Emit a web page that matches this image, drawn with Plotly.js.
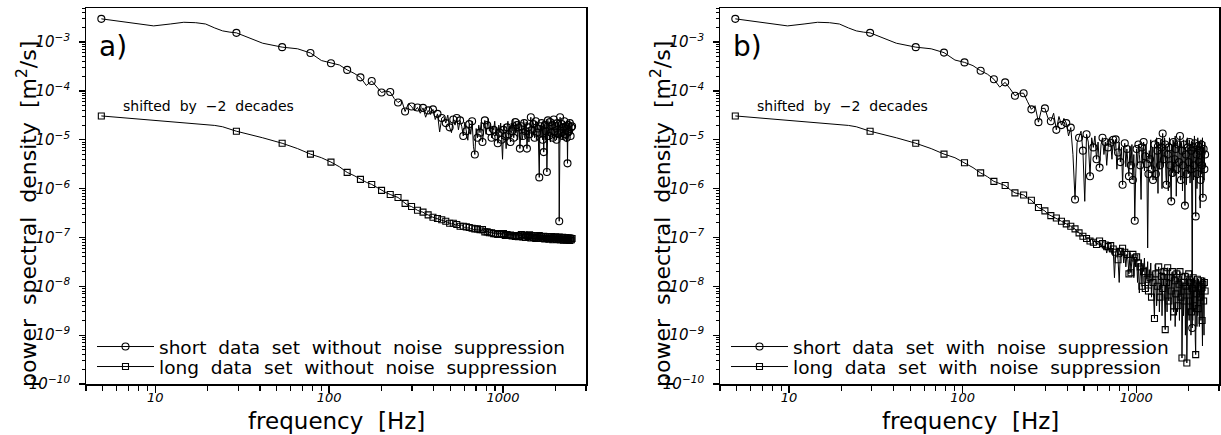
<!DOCTYPE html>
<html>
<head>
<meta charset="utf-8">
<script src="https://cdn.plot.ly/plotly-3.0.1.min.js"></script>
<style>html,body{margin:0;padding:0;background:#fff;}#chart{width:1221px;height:435px;}</style>
</head>
<body>
<div id="chart"></div>
<script>
// frequency bins [Hz]
const freq = [
4.9, 7.3, 9.8, 12.2, 14.6, 17.1, 19.5, 22.0, 24.4, 26.9, 29.3,
41.5, 53.7, 65.9, 78.1, 90.3, 102.5, 114.7, 127.0, 139.2, 151.4,
163.6, 175.8, 188.0, 200.2, 212.4, 224.6, 236.8, 249.0, 261.2, 273.4,
285.6, 297.9, 310.1, 322.3, 334.5, 346.7, 358.9, 371.1, 383.3, 395.5,
407.7, 419.9, 432.1, 444.3, 456.5, 468.7, 481.0, 493.2, 505.4, 517.6,
529.8, 542.0, 554.2, 566.4, 578.6, 590.8, 603.0, 615.2, 627.4, 639.6,
651.9, 664.1, 676.3, 688.5, 700.7, 712.9, 725.1, 737.3, 749.5, 761.7,
773.9, 786.1, 798.3, 810.5, 822.8, 835.0, 847.2, 859.4, 871.6, 883.8,
896.0, 908.2, 920.4, 932.6, 944.8, 957.0, 969.2, 981.4, 993.6, 1005.9,
1018.1, 1030.3, 1042.5, 1054.7, 1066.9, 1079.1, 1091.3, 1103.5, 1115.7, 1127.9,
1140.1, 1152.3, 1164.5, 1176.8, 1189.0, 1201.2, 1213.4, 1225.6, 1237.8, 1250.0,
1274.4, 1286.6, 1298.8, 1311.0, 1323.2, 1335.4, 1347.7, 1359.9, 1372.1, 1384.3,
1396.5, 1408.7, 1420.9, 1433.1, 1445.3, 1457.5, 1469.7, 1481.9, 1494.1, 1506.3,
1518.6, 1530.8, 1543.0, 1555.2, 1567.4, 1579.6, 1591.8, 1604.0, 1616.2, 1628.4,
1640.6, 1652.8, 1665.0, 1677.2, 1689.4, 1701.7, 1713.9, 1726.1, 1738.3, 1750.5,
1762.7, 1774.9, 1787.1, 1799.3, 1811.5, 1823.7, 1835.9, 1848.1, 1860.3, 1872.6,
1884.8, 1897.0, 1909.2, 1921.4, 1933.6, 1945.8, 1958.0, 1970.2, 1982.4, 1994.6,
2006.8, 2019.0, 2031.2, 2043.5, 2055.7, 2067.9, 2080.1, 2092.3, 2104.5, 2116.7,
2128.9, 2141.1, 2153.3, 2165.5, 2177.7, 2190.0, 2202.1, 2214.4, 2226.6, 2238.8,
2251.0, 2263.2, 2275.4, 2287.6, 2299.8, 2312.0, 2324.2, 2336.4, 2348.6, 2360.9,
2373.1, 2385.3, 2397.5, 2409.7, 2421.9, 2434.1, 2446.3, 2458.5, 2470.7, 2482.9,
2495.1
];

// a) short data set without noise suppression
const shortWithout = [
3.0e-3, 2.5e-3, 2.15e-3, 2.35e-3, 2.55e-3, 2.5e-3, 2.35e-3, 1.95e-3, 1.7e-3, 1.6e-3, 1.55e-3,
9.5e-4, 7.9e-4, 7.3e-4, 6.0e-4, 4.2e-4, 3.7e-4, 3.4e-4, 2.7e-4, 2.3e-4, 1.9e-4,
1.3e-4, 1.6e-4, 1.2e-4, 9.3e-5, 1.0e-4, 9.5e-5, 7.0e-5, 5.8e-5, 6.5e-5, 3.8e-5,
5.5e-5, 4.8e-5, 3.9e-5, 4.6e-5, 3.5e-5, 4.5e-5, 2.9e-5, 4.0e-5, 3.3e-5, 4.2e-5,
2.6e-5, 3.4e-5, 1.45e-5, 2.8e-5, 3.0e-5, 2.2e-5, 3.2e-5, 1.8e-5, 1.4e-5, 2.6e-5,
2.0e-5, 2.8e-5, 1.6e-5, 2.5e-5, 1.9e-5, 1.2e-5, 2.3e-5, 1.5e-5, 9.8e-6, 2.1e-5,
1.3e-5, 2.4e-5, 7.2e-6, 5.0e-6, 1.7e-5, 1.1e-5, 2.0e-5, 1.4e-5, 2.3e-5, 9.0e-6,
1.8e-5, 2.5e-5, 1.3e-5, 2.0e-5, 2.7e-5, 1.5e-5, 2.2e-5, 1.1e-5, 1.9e-5, 1.6e-5,
2.4e-5, 1.2e-5, 1.8e-5, 8.5e-6, 2.0e-5, 1.4e-5, 2.2e-5, 1.0e-5, 4.0e-6, 1.6e-5,
2.1e-5, 1.2e-5, 6.6e-6, 1.8e-5, 2.4e-5, 1.3e-5, 1.9e-5, 9.0e-6, 2.2e-5, 1.5e-5,
2.6e-5, 1.1e-5, 1.7e-5, 2.3e-5, 1.4e-5, 2.0e-5, 1.0e-5, 1.8e-5, 2.5e-5, 6.6e-6,
1.9e-5, 1.0e-5, 1.2e-5, 2.5e-5, 2.2e-5, 1.1e-5, 1.5e-5, 2.3e-5, 6.6e-6, 1.6e-5,
1.8e-5, 9.0e-6, 1.3e-5, 2.1e-5, 2.9e-5, 1.2e-5, 1.6e-5, 2.6e-5, 2.1e-5, 1.3e-5,
1.1e-5, 2.0e-5, 2.4e-5, 1.0e-5, 1.4e-5, 2.3e-5, 1.7e-5, 8.0e-6, 1.7e-6, 2.0e-5,
1.9e-5, 1.1e-5, 2.2e-5, 1.4e-5, 1.0e-5, 2.4e-5, 5.6e-6, 1.6e-5, 2.0e-5, 1.0e-5,
1.5e-5, 2.6e-5, 2.2e-6, 1.3e-5, 2.5e-5, 1.5e-5, 1.2e-5, 2.1e-5, 2.3e-5, 9.0e-6,
1.4e-5, 2.4e-5, 2.0e-5, 1.2e-5, 1.1e-5, 2.2e-5, 2.6e-5, 1.0e-5, 1.5e-5, 2.3e-5,
1.9e-5, 1.2e-5, 1.0e-5, 2.5e-5, 2.2e-5, 1.1e-5, 1.3e-5, 2.0e-5, 2.15e-7, 1.5e-5,
2.9e-5, 1.1e-5, 1.4e-5, 2.4e-5, 2.1e-5, 1.0e-5, 1.2e-5, 2.2e-5, 1.8e-5, 1.1e-5,
2.4e-5, 1.3e-5, 1.3e-5, 2.3e-5, 1.9e-5, 9.0e-6, 1.1e-5, 2.1e-5, 3.3e-6, 1.6e-5,
2.0e-5, 1.1e-5, 1.5e-5, 2.5e-5, 2.2e-5, 1.2e-5, 1.2e-5, 2.0e-5, 1.8e-5, 1.3e-5,
1.9e-5
];

// a) long data set without noise suppression (shifted by -2 decades)
const longWithout = [
3.08e-5, 2.74e-5, 2.5e-5, 2.36e-5, 2.24e-5, 2.14e-5, 2.05e-5, 1.97e-5, 1.85e-5, 1.65e-5, 1.5e-5,
1.1e-5, 8.5e-6, 6.6e-6, 5.1e-6, 4.3e-6, 3.5e-6, 2.8e-6, 2.15e-6, 1.85e-6, 1.55e-6,
1.35e-6, 1.22e-6, 1.05e-6, 9.2e-7, 8.3e-7, 7.6e-7, 7.0e-7, 6.6e-7, 5.7e-7, 5.0e-7,
4.5e-7, 4.3e-7, 3.9e-7, 3.6e-7, 3.4e-7, 3.3e-7, 3.0e-7, 2.9e-7, 2.7e-7, 2.6e-7,
2.5e-7, 2.45e-7, 2.35e-7, 2.3e-7, 2.2e-7, 2.15e-7, 2.05e-7, 1.95e-7, 1.9e-7, 1.95e-7,
1.8e-7, 1.85e-7, 1.75e-7, 1.7e-7, 1.8e-7, 1.7e-7, 1.6e-7, 1.65e-7, 1.55e-7, 1.6e-7,
1.5e-7, 1.55e-7, 1.45e-7, 1.5e-7, 1.4e-7, 1.5e-7, 1.4e-7, 1.45e-7, 1.35e-7, 1.45e-7,
1.35e-7, 1.3e-7, 1.4e-7, 1.3e-7, 1.35e-7, 1.25e-7, 1.35e-7, 1.25e-7, 1.3e-7, 1.2e-7,
1.3e-7, 1.2e-7, 1.3e-7, 1.15e-7, 1.25e-7, 1.2e-7, 1.3e-7, 1.15e-7, 1.25e-7, 1.2e-7,
1.28e-7, 1.1e-7, 1.22e-7, 1.15e-7, 1.25e-7, 1.1e-7, 1.2e-7, 1.12e-7, 1.22e-7, 1.08e-7,
1.18e-7, 1.1e-7, 1.2e-7, 1.05e-7, 1.15e-7, 1.1e-7, 1.18e-7, 1.04e-7, 1.12e-7, 1.08e-7,
1.15e-7, 9.0e-8, 1.02e-7, 1.25e-7, 1.12e-7, 9.2e-8, 1.0e-7, 1.2e-7, 1.1e-7, 8.8e-8,
1.05e-7, 1.22e-7, 1.13e-7, 8.9e-8, 9.8e-8, 1.18e-7, 1.1e-7, 8.7e-8, 1.0e-7, 1.2e-7,
1.08e-7, 8.6e-8, 9.6e-8, 1.17e-7, 1.07e-7, 8.8e-8, 9.8e-8, 1.16e-7, 1.1e-7, 8.5e-8,
9.5e-8, 1.15e-7, 1.05e-7, 8.6e-8, 9.7e-8, 1.14e-7, 1.06e-7, 8.4e-8, 9.3e-8, 1.12e-7,
1.04e-7, 8.5e-8, 9.6e-8, 1.13e-7, 1.05e-7, 8.3e-8, 9.2e-8, 1.1e-7, 1.02e-7, 8.4e-8,
9.5e-8, 1.12e-7, 1.04e-7, 8.2e-8, 9.0e-8, 1.1e-7, 1.0e-7, 8.3e-8, 9.4e-8, 1.09e-7,
1.03e-7, 8.2e-8, 9.1e-8, 1.1e-7, 1.0e-7, 8.1e-8, 9.3e-8, 1.08e-7, 1.02e-7, 8.2e-8,
8.9e-8, 1.07e-7, 9.9e-8, 8.0e-8, 9.2e-8, 1.07e-7, 1.01e-7, 8.1e-8, 8.8e-8, 1.06e-7,
9.8e-8, 8.0e-8, 9.1e-8, 1.06e-7, 1.0e-7, 7.9e-8, 8.8e-8, 1.05e-7, 9.7e-8, 8.0e-8,
9.0e-8, 1.05e-7, 9.9e-8, 7.9e-8, 8.7e-8, 1.04e-7, 9.6e-8, 7.9e-8, 9.0e-8, 1.03e-7,
9.5e-8
];

// b) short data set with noise suppression
const shortWith = [
3.0e-3, 2.5e-3, 2.15e-3, 2.35e-3, 2.55e-3, 2.5e-3, 2.35e-3, 1.95e-3, 1.7e-3, 1.6e-3, 1.55e-3,
9.5e-4, 7.9e-4, 7.3e-4, 6.1e-4, 4.3e-4, 3.85e-4, 3.3e-4, 2.6e-4, 2.2e-4, 1.74e-4,
1.2e-4, 1.5e-4, 1.1e-4, 8.0e-5, 9.0e-5, 9.0e-5, 6.0e-5, 4.2e-5, 5.0e-5, 2.3e-5,
4.4e-5, 4.4e-5, 2.8e-5, 2.4e-5, 3.5e-5, 1.6e-5, 3.0e-5, 2.0e-5, 2.75e-5, 2.2e-5,
1.2e-5, 1.78e-5, 5.0e-6, 6.0e-7, 8.7e-6, 1.1e-5, 1.5e-5, 6.0e-6, 5.5e-7, 1.3e-5,
9.0e-6, 1.8e-6, 1.1e-5, 7.0e-6, 1.2e-5, 4.0e-6, 9.0e-6, 2.7e-6, 8.0e-6, 1.1e-5,
5.0e-6, 9.0e-6, 3.0e-6, 7.0e-6, 1.1e-5, 8.7e-6, 4.0e-6, 1.0e-5, 6.0e-6, 1.02e-5,
2.5e-6, 5.5e-6, 9.0e-6, 3.5e-6, 7.0e-6, 1.2e-6, 6.0e-6, 8.5e-6, 2.8e-6, 6.5e-6,
4.0e-6, 1.8e-6, 7.5e-6, 3.0e-6, 8.0e-6, 1.5e-6, 5.0e-6, 2.2e-7, 2.0e-6, 6.5e-6,
3.0e-6, 8.0e-6, 5.0e-6, 3.0e-6, 6.0e-7, 7.0e-6, 3.5e-6, 9.0e-6, 2.3e-6, 4.6e-6,
8.0e-6, 3.2e-6, 6.1e-8, 2.0e-6, 6.0e-6, 4.0e-6, 1.0e-5, 2.5e-6, 7.0e-6, 1.5e-6,
8.0e-6, 1.5e-6, 2.0e-6, 1.1e-5, 6.0e-6, 8.0e-7, 9.0e-6, 2.5e-6, 3.0e-6, 1.0e-5,
7.0e-6, 1.0e-6, 1.35e-5, 3.0e-6, 4.0e-6, 1.1e-5, 8.0e-6, 2.0e-6, 1.2e-6, 7.5e-6,
5.0e-6, 9.0e-7, 7.0e-6, 1.1e-5, 3.0e-6, 1.5e-6, 5.5e-7, 8.0e-6, 2.1e-6, 1.0e-5,
9.0e-6, 1.8e-6, 4.0e-6, 1.2e-5, 6.5e-6, 7.0e-7, 2.5e-6, 9.0e-6, 8.0e-6, 2.0e-6,
3.5e-6, 1.1e-5, 1.2e-5, 1.5e-6, 1.5e-6, 8.5e-6, 6.0e-6, 9.0e-7, 3.0e-6, 1.0e-5,
8.0e-6, 2.5e-6, 4.5e-7, 7.0e-6, 5.0e-6, 1.2e-6, 2.0e-6, 1.1e-5, 7.0e-6, 2.0e-6,
3.5e-6, 1.0e-5, 9.0e-6, 1.3e-6, 2.5e-6, 8.0e-6, 6.0e-6, 3.0e-7, 1.4e-9, 9.0e-6,
7.0e-6, 1.5e-6, 3.0e-6, 1.2e-5, 8.5e-6, 2.0e-6, 2.7e-7, 7.0e-6, 5.0e-6, 1.0e-6,
2.0e-6, 1.1e-5, 7.5e-6, 1.8e-6, 3.5e-6, 9.0e-6, 6.0e-6, 4.0e-7, 1.5e-6, 1.0e-5,
8.0e-6, 2.0e-6, 3.0e-6, 1.1e-5, 6.5e-7, 7.0e-6, 6.5e-6, 1.5e-6, 2.5e-6, 9.0e-6,
5.0e-6
];

// b) long data set with noise suppression (shifted by -2 decades)
const longWith = [
3.08e-5, 2.74e-5, 2.5e-5, 2.36e-5, 2.24e-5, 2.14e-5, 2.05e-5, 1.97e-5, 1.85e-5, 1.65e-5, 1.5e-5,
1.1e-5, 8.5e-6, 6.6e-6, 5.1e-6, 4.3e-6, 3.4e-6, 2.7e-6, 2.1e-6, 1.75e-6, 1.41e-6,
1.25e-6, 1.16e-6, 9.5e-7, 8.2e-7, 7.8e-7, 7.4e-7, 6.4e-7, 5.8e-7, 4.8e-7, 4.1e-7,
3.8e-7, 3.5e-7, 3.0e-7, 2.8e-7, 2.7e-7, 2.5e-7, 2.3e-7, 2.15e-7, 2.0e-7, 1.9e-7,
1.8e-7, 1.7e-7, 1.55e-7, 1.5e-7, 1.3e-7, 1.24e-7, 1.2e-7, 1.06e-7, 1.1e-7, 9.5e-8,
1.0e-7, 8.5e-8, 9.5e-8, 8.0e-8, 8.8e-8, 7.2e-8, 7.7e-8, 8.5e-8, 6.5e-8, 7.5e-8,
5.5e-8, 7.0e-8, 4.8e-8, 6.5e-8, 5.0e-8, 6.8e-8, 4.5e-8, 5.8e-8, 1.5e-8, 5.0e-8,
6.0e-8, 3.5e-8, 1.2e-8, 5.2e-8, 4.0e-8, 6.0e-8, 3.0e-8, 5.0e-8, 2.5e-8, 4.5e-8,
3.5e-8, 1.8e-8, 4.8e-8, 1.9e-8, 3.5e-8, 4.5e-8, 1.5e-8, 3.8e-8, 2.5e-8, 4.0e-8,
1.2e-8, 3.0e-8, 7.3e-9, 2.5e-8, 3.5e-8, 1.0e-8, 2.8e-8, 2.0e-8, 3.8e-8, 9.0e-9,
2.5e-8, 1.4e-8, 3.2e-8, 8.0e-9, 2.2e-8, 1.5e-8, 3.0e-8, 6.0e-9, 2.0e-8, 1.2e-8,
2.2e-9, 2.8e-8, 1.8e-8, 4.0e-9, 1.0e-8, 2.2e-8, 2.5e-8, 3.0e-9, 6.0e-9, 2.0e-8,
1.6e-8, 2.5e-9, 9.0e-9, 2.4e-8, 2.0e-8, 4.0e-9, 1.3e-9, 1.8e-8, 1.2e-8, 3.0e-9,
2.4e-8, 6.0e-9, 5.0e-9, 2.2e-8, 1.5e-8, 2.0e-9, 8.0e-9, 1.9e-8, 2.0e-8, 4.0e-9,
3.0e-9, 1.7e-8, 1.3e-8, 1.5e-9, 7.0e-9, 2.0e-8, 1.8e-8, 3.0e-9, 4.0e-9, 1.5e-8,
1.1e-8, 2.0e-9, 2.0e-8, 8.0e-9, 6.0e-9, 1.6e-8, 3.4e-10, 5.0e-9, 1.2e-8, 2.5e-9,
5.0e-9, 1.8e-8, 1.6e-8, 1.0e-9, 1.0e-8, 1.5e-8, 2.7e-10, 6.0e-9, 8.0e-9, 1.7e-8,
1.8e-8, 2.0e-9, 5.0e-9, 1.5e-8, 1.2e-8, 1.0e-9, 3.0e-9, 1.4e-8, 9.0e-9, 2.0e-9,
1.5e-8, 3.0e-9, 4.0e-9, 1.6e-8, 1.1e-8, 8.0e-10, 4.0e-10, 1.2e-8, 7.0e-9, 1.5e-9,
1.4e-8, 2.5e-9, 3.5e-9, 1.4e-8, 1.0e-8, 1.5e-9, 6.0e-9, 1.3e-8, 1.3e-8, 2.0e-9,
9.2e-9, 1.5e-8, 2.0e-9, 6.0e-10, 1.1e-8, 1.4e-8, 5.0e-9, 1.0e-9, 1.2e-8, 1.5e-8,
8.0e-9
];

const binWidth = 2.4414;   // Hz per spectral bin
const markerStep = 10;      // a symbol on every 10th bin

const legendNames = {
  shortWithout: 'short\u00a0 data\u00a0 set\u00a0 without\u00a0 noise\u00a0 suppression',
  longWithout:  'long\u00a0 data\u00a0 set\u00a0 without\u00a0 noise\u00a0 suppression',
  shortWith:    'short\u00a0 data\u00a0 set\u00a0 with\u00a0 noise\u00a0 suppression',
  longWith:     'long\u00a0 data\u00a0 set\u00a0 with\u00a0 noise\u00a0 suppression'
};

const markerColors = freq.map(f => (Math.round(f / binWidth) % markerStep === 2) ? 'black' : 'rgba(0,0,0,0)');

function trace(y, xa, ya, symbol, size, name, legend) {
  return {
    type: 'scatter', mode: 'lines+markers', x: freq, y: y, xaxis: xa, yaxis: ya,
    name: name, legend: legend, showlegend: true,
    line: {color: 'black', width: 1},
    marker: {symbol: symbol, size: size, color: markerColors, line: {width: 1.1}}
  };
}

const data = [
  trace(shortWithout, 'x', 'y', 'circle-open', 7, legendNames.shortWithout, 'legend'),
  trace(longWithout, 'x', 'y', 'square-open', 6, legendNames.longWithout, 'legend2'),
  trace(shortWith, 'x2', 'y2', 'circle-open', 7, legendNames.shortWith, 'legend3'),
  trace(longWith, 'x2', 'y2', 'square-open', 6, legendNames.longWith, 'legend4')
];

const W = 1221, H = 435;
const px = v => v / W;
const py = v => 1 - v / H;

function xax(d0, d1, anchor) {
  return {
    type: 'log', domain: [px(d0), px(d1)], anchor: anchor,
    range: [Math.log10(4), Math.log10(3000)],
    showline: true, mirror: true, linecolor: 'black', linewidth: 1.5,
    showgrid: false, zeroline: false,
    ticks: 'outside', ticklen: 7, tickwidth: 1.3, tickcolor: 'black',
    dtick: 1, exponentformat: 'none',
    tickfont: {family: 'DejaVu Sans', size: 13, style: 'italic', color: 'black'},
    ticklabelstandoff: -6,
    minor: {ticks: 'outside', ticklen: 5, tickwidth: 1.2, tickcolor: 'black', dtick: 'D1', showgrid: false}
  };
}
function yax(anchor) {
  return {
    type: 'log', domain: [1 - 384 / H, 1 - 8 / H], anchor: anchor,
    range: [-10, Math.log10(5e-3)],
    showline: true, mirror: true, linecolor: 'black', linewidth: 1.5,
    showgrid: false, zeroline: false,
    ticks: 'outside', ticklen: 6, tickwidth: 1.3, tickcolor: 'black',
    dtick: 1, exponentformat: 'power',
    tickfont: {family: 'DejaVu Sans', size: 12, style: 'italic', color: 'black'},
    ticklabelstandoff: 6,
    minor: {ticks: 'outside', ticklen: 3, tickwidth: 1, tickcolor: 'black', dtick: 'D1', showgrid: false}
  };
}
function leg(x, y) {
  return {x: px(x), y: py(y), xanchor: 'left', yanchor: 'middle', bgcolor: 'rgba(0,0,0,0)',
    borderwidth: 0, itemwidth: 57, font: {family: 'DejaVu Sans', size: 18.5, color: 'black'}};
}
const ann = (text, x, y, size, extra) => Object.assign({
  text: text, xref: 'paper', yref: 'paper', x: px(x), y: py(y), xanchor: 'center', yanchor: 'middle',
  showarrow: false, font: {family: 'DejaVu Sans', size: size, color: 'black'}
}, extra || {});

const layout = {
  width: W, height: H, margin: {l: 0, r: 0, t: 0, b: 0},
  paper_bgcolor: 'white', plot_bgcolor: 'white',
  font: {family: 'DejaVu Sans', color: 'black'},
  xaxis: xax(86, 586, 'y'), yaxis: yax('x'),
  xaxis2: xax(720, 1219, 'y2'), yaxis2: yax('x2'),
  legend: leg(92, 347), legend2: leg(92, 367),
  legend3: leg(726, 347), legend4: leg(726, 367),
  annotations: [
    ann('a)', 113, 46, 28),
    ann('b)', 747, 46, 28),
    ann('shifted\u00a0 by\u00a0 \u22122\u00a0 decades', 208, 106, 14),
    ann('shifted\u00a0 by\u00a0 \u22122\u00a0 decades', 842, 106, 14),
    ann('power\u00a0 spectral\u00a0 density\u00a0 [m<sup>2</sup>/s]', 27, 214, 22, {textangle: -90}),
    ann('power\u00a0 spectral\u00a0 density\u00a0 [m<sup>2</sup>/s]', 661, 214, 22, {textangle: -90}),
    ann('frequency\u00a0 [Hz]', 336, 421, 23),
    ann('frequency\u00a0 [Hz]', 970, 421, 23)
  ]
};

Plotly.newPlot('chart', data, layout, {displayModeBar: false, staticPlot: true});
</script>
</body>
</html>
